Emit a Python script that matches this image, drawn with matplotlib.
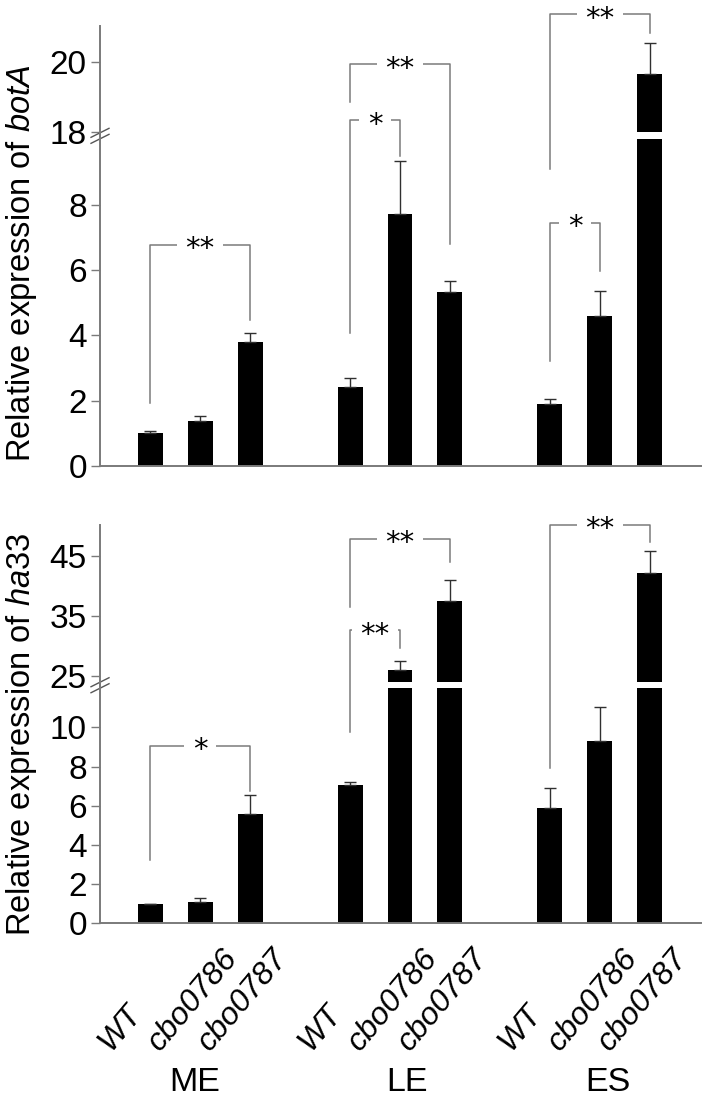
import numpy as np
import matplotlib
matplotlib.use('Agg')
from matplotlib import pyplot as plt
from matplotlib import transforms

plt.rcParams['font.family'] = ['Liberation Sans', 'DejaVu Sans']
plt.rcParams['mathtext.fontset'] = 'custom'
plt.rcParams['mathtext.rm'] = 'Liberation Sans'
plt.rcParams['mathtext.it'] = 'Liberation Sans:italic'

# data
phases = ['ME', 'LE', 'ES']
strains = ['WT', 'cbo0786', 'cbo0787']
positions = [0, 1, 2, 4, 5, 6, 8, 9, 10]

bot_mean = [1.00, 1.38, 3.79, 2.43, 7.72, 5.32, 1.89, 4.58, 19.66]
bot_err = [0.07, 0.16, 0.28, 0.25, 1.63, 0.33, 0.16, 0.79, 0.88]
ha_mean = [1.00, 1.10, 5.58, 7.06, 26.1, 37.5, 5.87, 9.31, 42.2]
ha_err = [0.0, 0.18, 0.97, 0.14, 1.5, 3.6, 1.03, 1.75, 3.7]

bot_ticks = [0, 2, 4, 6, 8, 18, 20]
ha_ticks = [0, 2, 4, 6, 8, 10, 25, 35, 45]

# (bar i, bar j, bracket top, left leg end, right leg end, label)
bot_sig = [(0, 2, 6.78, 1.93, 4.48, '**'),
           (3, 5, 19.94, 18.86, 6.81, '**'),
           (3, 4, 18.34, 4.08, 9.5, '*'),
           (6, 8, 21.36, 9.1, 20.84, '**'),
           (6, 7, 7.44, 3.22, 5.96, '*')]
ha_sig = [(0, 2, 9.06, 3.23, 6.77, '*'),
          (3, 5, 47.9, 36.5, 44.1, '**'),
          (3, 4, 32.7, 9.79, 29.67, '**'),
          (6, 8, 50.28, 7.92, 47.33, '**')]

GRAY = '#7a7a7a'


def broken(lo, hi, gap, k):
    d = np.array([-1e3, lo, hi, hi + 1e3])
    s = np.array([-1e3, lo, lo + gap, lo + gap + 1e3 * k])
    return (lambda y: np.interp(y, d, s)), (lambda y: np.interp(y, s, d))


def panel(ax, mean, err, sig, ticks, lo, hi, gap, k, ytop, label, lab_y):
    ax.set_yscale('function', functions=broken(lo, hi, gap, k))
    ax.bar(positions, mean, width=0.5, color='black', zorder=1)
    ax.errorbar(positions, mean, yerr=[np.zeros(len(err)), err], fmt='none',
                ecolor='#303030', elinewidth=1, capsize=4, capthick=1, zorder=2)
    ax.axhspan(lo, hi, xmin=0.004, xmax=1, color='white', lw=0, zorder=1.5)
    ax.set_xlim(-1, 11.02)
    ax.set_ylim(0, ytop)
    ax.set_yticks(ticks)
    ax.set_yticklabels([str(t) for t in ticks])
    for s in ['top', 'right']:
        ax.spines[s].set_visible(False)
    for s in ['left', 'bottom']:
        ax.spines[s].set_color(GRAY)
        ax.spines[s].set_linewidth(1.4)
    ax.tick_params(axis='y', direction='out', length=6.5, width=1, color=GRAY,
                   labelsize=24, pad=3)
    ax.tick_params(axis='x', length=0, labelbottom=False)
    ax.set_ylabel(label, fontsize=23.5)
    ax.yaxis.set_label_coords(-0.101, lab_y)

    for i, j, top, le, re, s in sig:
        x1, x2 = positions[i], positions[j]
        ax.plot([x1, x1, x2, x2], [le, top, top, re], color=GRAY, lw=1.1,
                clip_on=False, zorder=2)
        ax.annotate(s, xy=((x1 + x2) / 2, top), xytext=(0, -9),
                    textcoords='offset points', ha='center', va='baseline',
                    fontsize=21, family='DejaVu Sans', annotation_clip=False,
                    bbox=dict(boxstyle='square,pad=0.3', fc='white', ec='none'),
                    zorder=3)

    # break marks on the y axis
    yf = ax.transAxes.inverted().transform(ax.transData.transform((0, (lo + hi) / 2)))[1]
    W, H = ax.bbox.width, ax.bbox.height
    for o in (-3, 3):
        ax.plot([-9 / W, 9 / W], [yf + (o - 4.5) / H, yf + (o + 4.5) / H],
                transform=ax.transAxes, color='#555555', lw=1, clip_on=False)


fig = plt.figure(figsize=(7.2, 11.02), dpi=100)
ax1 = fig.add_axes([0.1389, 0.5771, 0.8347, 0.3993])
ax2 = fig.add_axes([0.1389, 0.1622, 0.8347, 0.3614])

panel(ax1, bot_mean, bot_err, bot_sig, bot_ticks, 10, 18, 0.215, 1.074, 21.03,
      'Relative expression of $\\it{botA}$', 0.46)
panel(ax2, ha_mean, ha_err, ha_sig, ha_ticks, 12, 24, 0.306, 0.3064, 50.2,
      'Relative expression of $\\it{ha}$33', 0.475)

trans = transforms.blended_transform_factory(ax2.transData, ax2.transAxes)
for g in range(3):
    for s in range(3):
        ax2.text(positions[3 * g + s] - 0.8, -0.323, strains[s], transform=trans,
                 rotation=50, rotation_mode='anchor', ha='left', va='baseline',
                 fontsize=23, style='italic')

label_shift = [-0.1, 0.14, 0.16]
for g, name in enumerate(phases):
    ax2.text(positions[3 * g + 1] + label_shift[g], -0.401, name, transform=trans,
             ha='center', va='center', fontsize=24.5)

fig.savefig('out.png', dpi=100)
